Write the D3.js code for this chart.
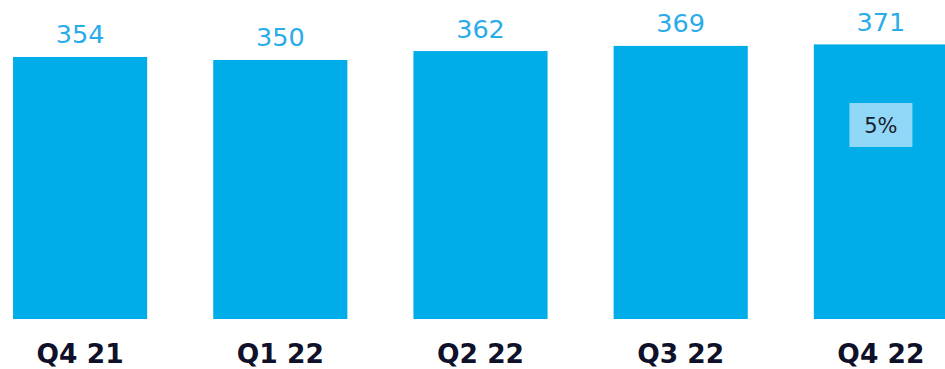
<!DOCTYPE html>
<html>
<head>
<meta charset="utf-8">
<script src="https://cdn.jsdelivr.net/npm/d3@7"></script>
<style>
  body { margin: 0; background: #fff; }
  svg { display: block; font-family: "DejaVu Sans", Verdana, sans-serif; }
</style>
</head>
<body>
<svg id="chart" width="945" height="369"></svg>
<script>
// quarters and values
const quarters = ["Q4 21", "Q1 22", "Q2 22", "Q3 22", "Q4 22"]
const values = [354, 350, 362, 369, 371]
const growthLabel = "5%"

const svg = d3.select("#chart")

// bars span a slightly wider area than the window, the last one is cut off
let x = d3.scaleBand()
  .domain(quarters)
  .range([-20, 981])
  .paddingInner(0.33)
  .paddingOuter(0.165)

let y = d3.scaleLinear()
  .domain([0, 431])
  .range([319, 0])

svg.selectAll(".bar")
  .data(values)
  .enter()
  .append("rect")
  .attr("class", "bar")
  .attr("x", (d, i) => x(quarters[i]))
  .attr("y", d => y(d))
  .attr("width", x.bandwidth())
  .attr("height", d => y(0) - y(d))
  .attr("fill", "#00ade8")

svg.selectAll(".value")
  .data(values)
  .enter()
  .append("text")
  .attr("class", "value")
  .attr("x", (d, i) => x(quarters[i]) + x.bandwidth() / 2)
  .attr("y", d => y(d) - 13.5)
  .attr("text-anchor", "middle")
  .attr("font-size", 25.5)
  .attr("fill", "#2aabea")
  .text(d => d)

svg.selectAll(".quarter")
  .data(quarters)
  .enter()
  .append("text")
  .attr("class", "quarter")
  .attr("x", d => x(d) + x.bandwidth() / 2)
  .attr("y", 363)
  .attr("text-anchor", "middle")
  .attr("font-size", 26.5)
  .attr("font-weight", "bold")
  .attr("fill", "#0e1129")
  .text(d => d)

// growth badge on the last bar
let last = quarters[quarters.length - 1]
let cx = x(last) + x.bandwidth() / 2

svg.append("rect")
  .attr("x", cx - 31.5)
  .attr("y", 103)
  .attr("width", 63)
  .attr("height", 44)
  .attr("fill", "#90d7f8")

svg.append("text")
  .attr("x", cx)
  .attr("y", 133.3)
  .attr("text-anchor", "middle")
  .attr("font-size", 21)
  .attr("fill", "#1a1d2e")
  .text(growthLabel)
</script>
</body>
</html>
